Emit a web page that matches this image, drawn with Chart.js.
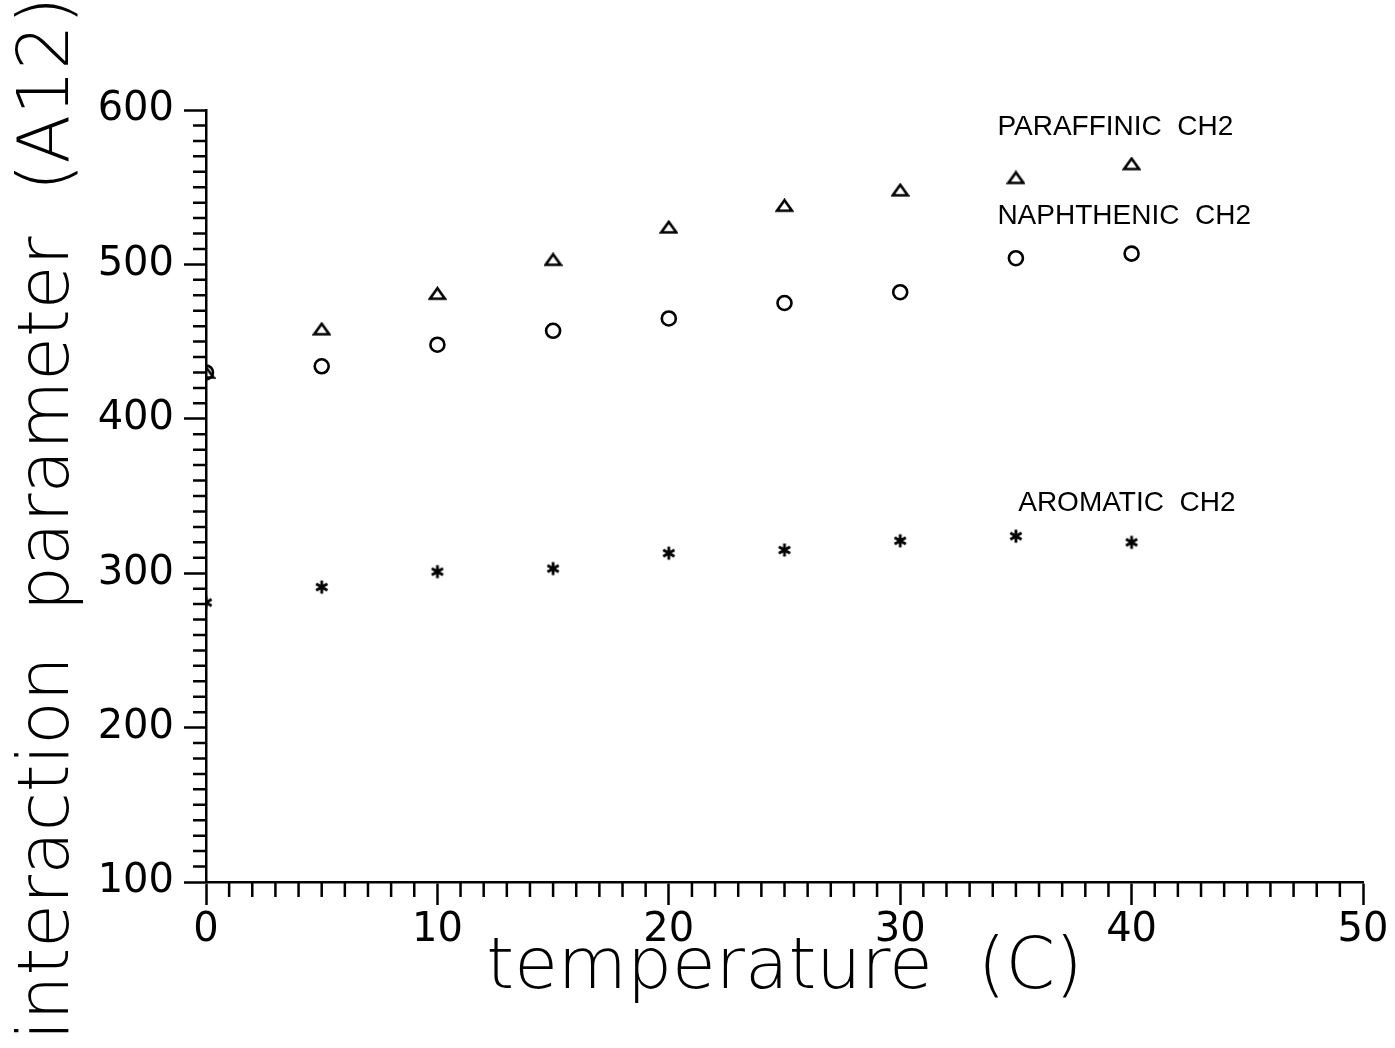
<!DOCTYPE html>
<html>
<head>
<meta charset="utf-8">
<script src="https://cdn.jsdelivr.net/npm/chart.js@4.4.1/dist/chart.umd.min.js"></script>
<style>
  html, body { margin: 0; padding: 0; background: #ffffff; }
  #wrap { width: 1395px; height: 1048px; position: relative; }
</style>
</head>
<body>
<div id="wrap"><canvas id="c"></canvas></div>
<script>
// ---- data ----
const temperatures = [0, 5, 10, 15, 20, 25, 30, 35, 40];
const paraffinicCH2 = [430, 458, 481, 503, 524, 538, 548, 556, 565];
const naphthenicCH2 = [430, 434, 448, 457, 465, 475, 482, 504, 507];
const aromaticCH2  = [281, 291, 301, 303, 313, 315, 321, 324, 320];

const xTitle = 'temperature  (C)';
const yTitle = 'interaction  parameter  (A12)  ';

// in-plot series labels and their anchor (data units)
const seriesLabels = ['PARAFFINIC  CH2', 'NAPHTHENIC  CH2', 'AROMATIC  CH2'];
const seriesLabelX = [34.2, 34.2, 35.1];
const seriesLabelY = [589, 531, 345.5];

const toPoints = (ys) => temperatures.map((t, i) => ({ x: t, y: ys[i] }));

const FONT = '"DejaVu Sans", sans-serif';

// marker glyphs
function makeTriangle() {
  const c = document.createElement('canvas');
  c.width = 19; c.height = 15;
  const g = c.getContext('2d');
  g.strokeStyle = '#000'; g.lineWidth = 2.6; g.lineJoin = 'miter';
  g.beginPath();
  g.moveTo(9.5, 2); g.lineTo(17, 12.5); g.lineTo(2, 12.5); g.closePath();
  g.stroke();
  return c;
}
function makeAsterisk() {
  const c = document.createElement('canvas');
  c.width = 16; c.height = 16;
  const g = c.getContext('2d');
  g.strokeStyle = '#000'; g.lineWidth = 2.8; g.lineCap = 'butt';
  const r = 6.5, cx = 8, cy = 8;
  g.beginPath();
  [90, 30, 150].forEach(a => {
    const rad = a * Math.PI / 180;
    g.moveTo(cx - r * Math.cos(rad), cy - r * Math.sin(rad));
    g.lineTo(cx + r * Math.cos(rad), cy + r * Math.sin(rad));
  });
  g.stroke();
  return c;
}
const triangleGlyph = makeTriangle();
const asteriskGlyph = makeAsterisk();

const minorTicks = {
  id: 'minorTicks',
  afterDraw(chart) {
    const ctx = chart.ctx;
    const xs = chart.scales.x, ys = chart.scales.y;
    const area = chart.chartArea;
    ctx.save();
    ctx.strokeStyle = '#000';
    ctx.lineWidth = 2.5;
    ctx.beginPath();
    for (let v = xs.min; v <= xs.max; v += 1) {
      if (v % 10 === 0) continue;
      const px = xs.getPixelForValue(v);
      ctx.moveTo(px, area.bottom);
      ctx.lineTo(px, area.bottom + 15);
    }
    for (let v = ys.min; v <= ys.max; v += 10) {
      if (v % 100 === 0) continue;
      const py = ys.getPixelForValue(v);
      ctx.moveTo(area.left, py);
      ctx.lineTo(area.left - 13, py);
    }
    ctx.stroke();
    // series labels
    ctx.fillStyle = '#000';
    ctx.font = '28px "Liberation Sans", Arial, sans-serif';
    ctx.textAlign = 'left';
    ctx.textBaseline = 'middle';
    seriesLabels.forEach((s, i) => {
      ctx.fillText(s, xs.getPixelForValue(seriesLabelX[i]), ys.getPixelForValue(seriesLabelY[i]));
    });
    ctx.restore();
  }
};

new Chart(document.getElementById('c'), {
  type: 'scatter',
  data: {
    datasets: [
      { label: 'PARAFFINIC CH2', data: toPoints(paraffinicCH2), pointStyle: triangleGlyph,
        pointRadius: 8, borderColor: '#000', backgroundColor: 'rgba(0,0,0,0)', borderWidth: 2.5 },
      { label: 'NAPHTHENIC CH2', data: toPoints(naphthenicCH2), pointStyle: 'circle',
        pointRadius: 7, borderColor: '#000', backgroundColor: 'rgba(0,0,0,0)', borderWidth: 2.6 },
      { label: 'AROMATIC CH2', data: toPoints(aromaticCH2), pointStyle: asteriskGlyph,
        pointRadius: 7, borderColor: '#000', backgroundColor: '#000', borderWidth: 2.5 }
    ]
  },
  options: {
    responsive: true,
    maintainAspectRatio: false,
    animation: false,
    layout: { padding: { top: 110, right: 32, left: 0, bottom: 0 } },
    plugins: { legend: { display: false }, tooltip: { enabled: false } },
    scales: {
      x: {
        type: 'linear', position: 'bottom', min: 0, max: 50,
        ticks: { stepSize: 10, color: '#000', font: { family: FONT, size: 40, weight: 'normal' }, padding: 2, maxRotation: 0 },
        grid: { display: true, drawOnChartArea: false, drawTicks: true, tickLength: 23, tickColor: '#000', tickWidth: 2.5 },
        border: { display: true, color: '#000', width: 2.5 },
        title: { display: true, text: xTitle, color: '#000',
                 font: { family: FONT, size: 71, weight: '300', lineHeight: 1 }, padding: { top: 0, bottom: 43 } },
        afterFit(scale) { scale.height = 166; }
      },
      y: {
        type: 'linear', position: 'left', min: 100, max: 600,
        ticks: { stepSize: 100, color: '#000', font: { family: FONT, size: 40, weight: 'normal' }, padding: 10 },
        grid: { display: true, drawOnChartArea: false, drawTicks: true, tickLength: 22, tickColor: '#000', tickWidth: 2.5 },
        border: { display: true, color: '#000', width: 2.5 },
        title: { display: true, text: yTitle, color: '#000',
                 font: { family: FONT, size: 71, weight: '300', lineHeight: 1 }, padding: { top: 14, bottom: 0 } },
        afterFit(scale) { scale.width = 206; }
      }
    }
  },
  plugins: [minorTicks]
});
</script>
</body>
</html>
